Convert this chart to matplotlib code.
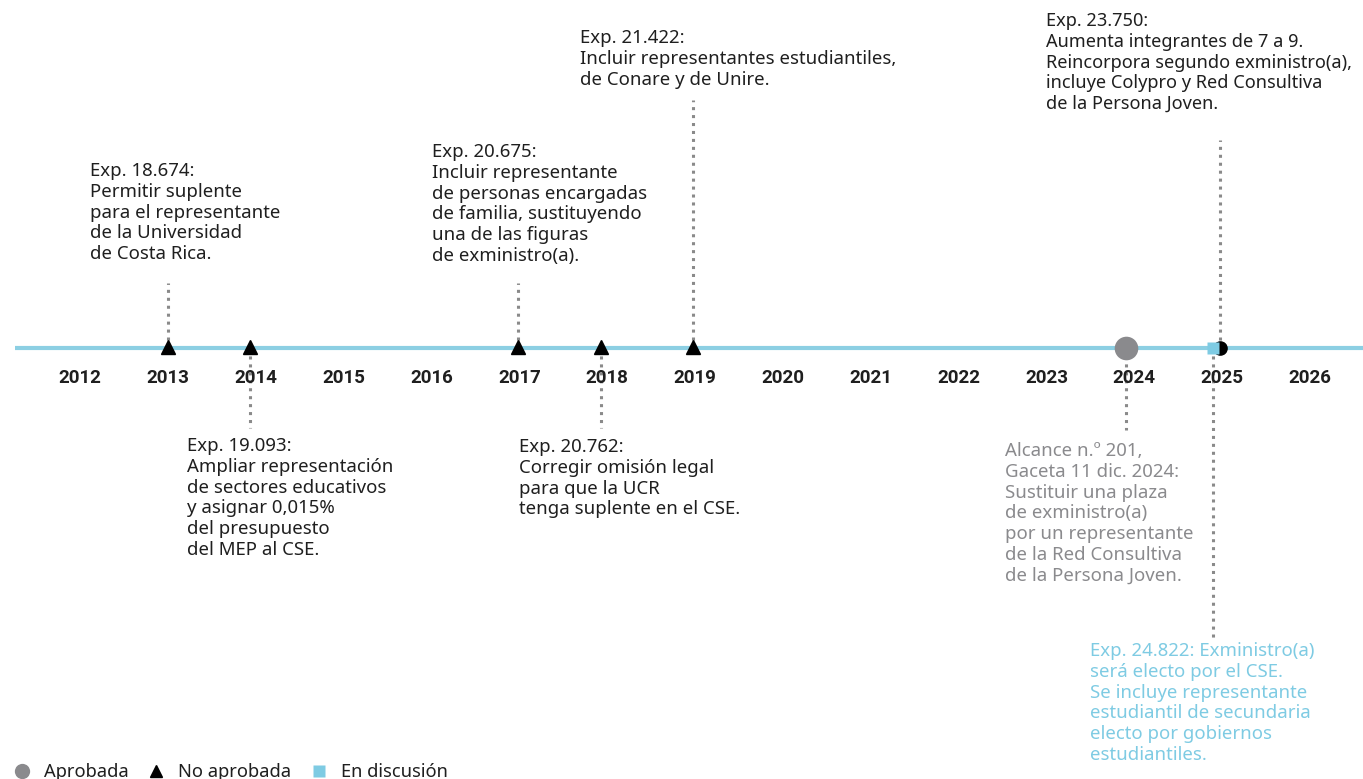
import matplotlib.pyplot as plt
from matplotlib.lines import Line2D

# datos
years = list(range(2012, 2027))
event_x = [2013.0, 2013.93, 2016.98, 2017.93, 2018.98, 2023.9, 2024.97, 2024.9]
event_status = ["no", "no", "no", "no", "no", "aprobada", "no_half", "discusion"]
event_side = ["up", "down", "up", "down", "up", "down", "up", "down"]
event_text = [
    "Exp. 18.674:\nPermitir suplente\npara el representante\nde la Universidad\nde Costa Rica.",
    "Exp. 19.093:\nAmpliar representación\nde sectores educativos\ny asignar 0,015%\ndel presupuesto\ndel MEP al CSE.",
    "Exp. 20.675:\nIncluir representante\nde personas encargadas\nde familia, sustituyendo\nuna de las figuras\nde exministro(a).",
    "Exp. 20.762:\nCorregir omisión legal\npara que la UCR\ntenga suplente en el CSE.",
    "Exp. 21.422:\nIncluir representantes estudiantiles,\nde Conare y de Unire.",
    "Alcance n.º 201,\nGaceta 11 dic. 2024:\nSustituir una plaza\nde exministro(a)\npor un representante\nde la Red Consultiva\nde la Persona Joven.",
    "Exp. 23.750:\nAumenta integrantes de 7 a 9.\nReincorpora segundo exministro(a),\nincluye Colypro y Red Consultiva\nde la Persona Joven.",
    "Exp. 24.822: Exministro(a)\nserá electo por el CSE.\nSe incluye representante\nestudiantil de secundaria\nelecto por gobiernos\nestudiantiles.",
]

# layout (px from top)
line_end = [283, 428, 283, 428, 100, 430, 140, 640]
text_x = [90, 187, 432, 519, 580, 1005, 1046, 1090]
text_top = [162, 437, 143, 438, 29, 442, 12, 642]
text_size = [13.4, 13.4, 13.4, 13.4, 13.4, 13.4, 13.1, 13.4]

DARK = "#1f1f1f"
GRAY = "#8a8a8d"
BLUE = "#7ecbe3"
LINE = "#8ccfe3"
text_color = [DARK, DARK, DARK, DARK, DARK, GRAY, DARK, BLUE]

plt.rcParams['font.family'] = ['Noto Sans', 'DejaVu Sans']

W, H = 1363, 779
fig = plt.figure(figsize=(W / 100, H / 100), dpi=100)
ax = fig.add_axes([0, 0, 1, 1])
ppy = (1310 - 80) / 14.0
x0 = 2012 - 80 / ppy
ax.set_xlim(x0, x0 + W / ppy)
ax.set_ylim(H, 0)
ax.axis("off")

base_y = 348
ax.plot([x0 + 15 / ppy, x0 + W / ppy], [base_y, base_y], color=LINE, lw=3, zorder=1, solid_capstyle="butt")

for y in years:
    ax.text(y, 378, str(y), ha="center", va="center", fontsize=13.5, fontweight="bold",
            color=DARK, family=["Roboto", "DejaVu Sans"])

for i, x in enumerate(event_x):
    ax.plot([x, x], [base_y, line_end[i]], color="#8a8a8a", lw=2.2, ls=(0, (1, 1.6)), zorder=0)
    ax.text(x0 + text_x[i] / ppy, text_top[i], event_text[i], ha="left", va="top",
            fontsize=text_size[i], color=text_color[i], linespacing=1.2)

for x, st in zip(event_x, event_status):
    if st == "no":
        ax.plot(x, base_y - 1, marker="^", ms=10, color="black", zorder=3)
    elif st == "aprobada":
        ax.plot(x, base_y, marker="o", ms=17, color=GRAY, mec="none", zorder=3)
    elif st == "no_half":
        ax.plot(x, base_y, marker="o", ms=9.5, color="black", zorder=3)
    else:
        ax.plot(x, base_y, marker="s", ms=8.5, color=BLUE, mec="none", zorder=4)

handles = [
    Line2D([], [], marker="o", ls="none", color=GRAY, ms=11, mec="none"),
    Line2D([], [], marker="^", ls="none", color="black", ms=9),
    Line2D([], [], marker="s", ls="none", color=BLUE, ms=9, mec="none"),
]
ax.legend(handles, ["Aprobada", "No aprobada", "En discusión"], ncol=3, loc="lower left",
          bbox_to_anchor=(-0.004, -0.024), frameon=False, fontsize=13.2, handlelength=1.2,
          handletextpad=0.6, columnspacing=0.9, labelcolor=DARK)

fig.savefig("out.png", dpi=100)
